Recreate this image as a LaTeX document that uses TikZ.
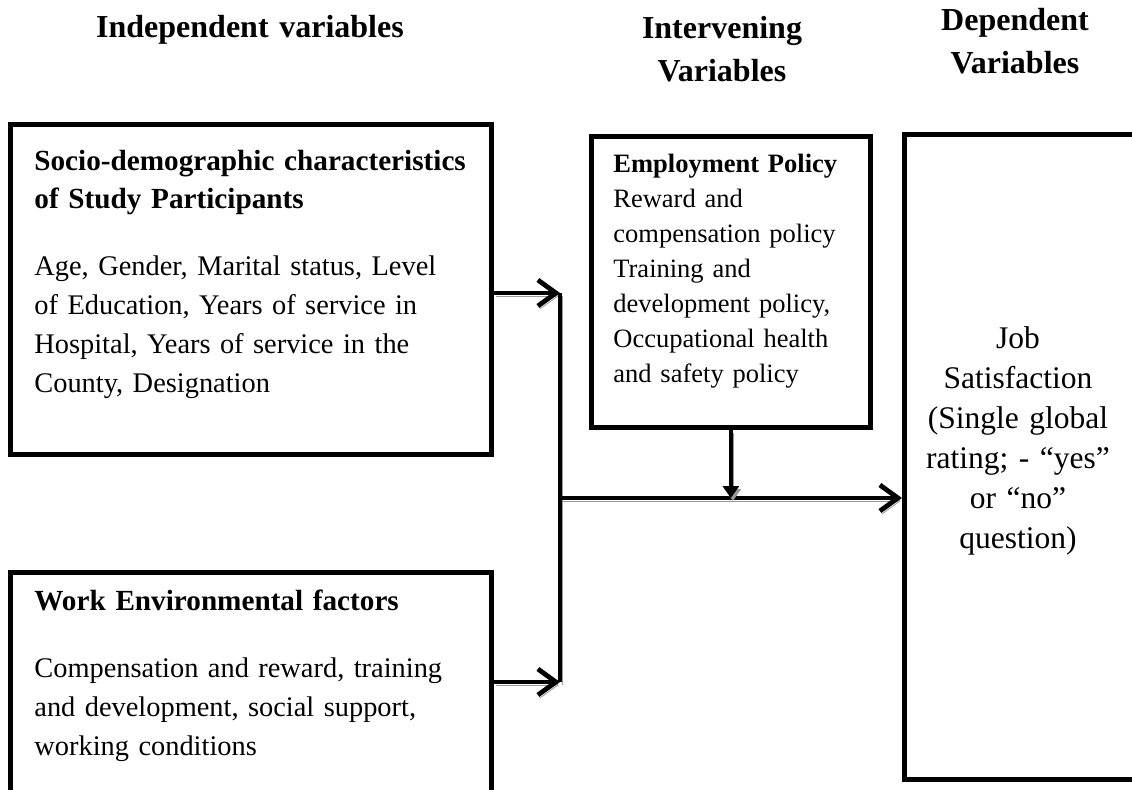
\documentclass[tikz,border=0pt]{standalone}
\usepackage{fontspec}
\setmainfont{Liberation Serif}
\usepackage{tikz}
\usetikzlibrary{arrows.meta,calc,positioning}

\tikzset{
  box/.style={draw, line width=2.4pt, inner sep=0pt, anchor=north west},
  head/.style={font=\bfseries\fontsize{16}{21.5}\selectfont, align=center, anchor=base, inner sep=0pt, text width=#1},
  txt/.style={inner sep=0pt, anchor=base west, align=left, text width=#1},
  link/.style={line width=2.4pt, preaction={draw=black!40, transform canvas={shift={(1pt,-1.5pt)}}}},
  flow/.style={link, -{Straight Barb[length=9pt,width=13pt]}},
}

\begin{document}
\begin{tikzpicture}[x=0.5pt, y=-0.5pt]
\useasboundingbox (0,0) rectangle (1132,789);
% headings
\node[head=170pt] (hind) at (250,37) {Independent variables};
\node[head=100pt] (hint) at (722,38) {Intervening\\Variables};
\node[head=100pt] (hdep) at (1015,30) {Dependent\\Variables};
% boxes
\node[box, minimum width=240.5pt, minimum height=165pt] (socio) at (8,122) {};
\node[box, minimum width=240.5pt, minimum height=115pt] (work) at (8,570) {};
\node[box, minimum width=139.5pt, minimum height=145.5pt] (policy) at (589,134) {};
\node[box, minimum width=117pt, minimum height=322.5pt] (job) at (902,132) {};
% socio-demographic
\node[txt=230pt, font=\bfseries\fontsize{14.6}{19}\selectfont] (sociohd) at (34,170) {Socio-demographic characteristics\\of Study Participants};
\node[txt=230pt, font=\fontsize{14.2}{19.5}\selectfont] (sociotx) at (34,275) {Age, Gender, Marital status, Level\\of Education, Years of service in\\Hospital, Years of service in the\\County, Designation};
% work environment
\node[txt=230pt, font=\bfseries\fontsize{14.6}{19}\selectfont] (workhd) at (34,610) {Work Environmental factors};
\node[txt=230pt, font=\fontsize{14.2}{19.5}\selectfont] (worktx) at (34,677) {Compensation and reward, training\\and development, social support,\\working conditions};
% policy
\node[txt=125pt, font=\fontsize{13.25}{17.5}\selectfont] (policytx) at (613,172) {\textbf{Employment Policy}\\Reward and\\compensation policy\\Training and\\development policy,\\Occupational health\\and safety policy};
% outcome
\node[font=\fontsize{15.75}{20}\selectfont, align=center, anchor=base, inner sep=0pt, text width=110pt] (jobtx) at (1018,348) {Job\\Satisfaction\\(Single global\\rating; - “yes”\\or “no”\\question)};
% arrows
\coordinate (top) at (560,293);
\coordinate (bot) at (560,682);
\coordinate (mid) at (560,498);
\draw[flow] (socio.east |- top) -- (top);
\draw[flow] (work.east |- bot) -- (bot);
\draw[link] (top) -- (bot);
\draw[flow] (mid) -- (job.west |- mid);
\draw[link, -{Triangle[length=6pt,width=8pt]}] (policy.south) -- (policy.south |- mid);
\end{tikzpicture}
\end{document}
